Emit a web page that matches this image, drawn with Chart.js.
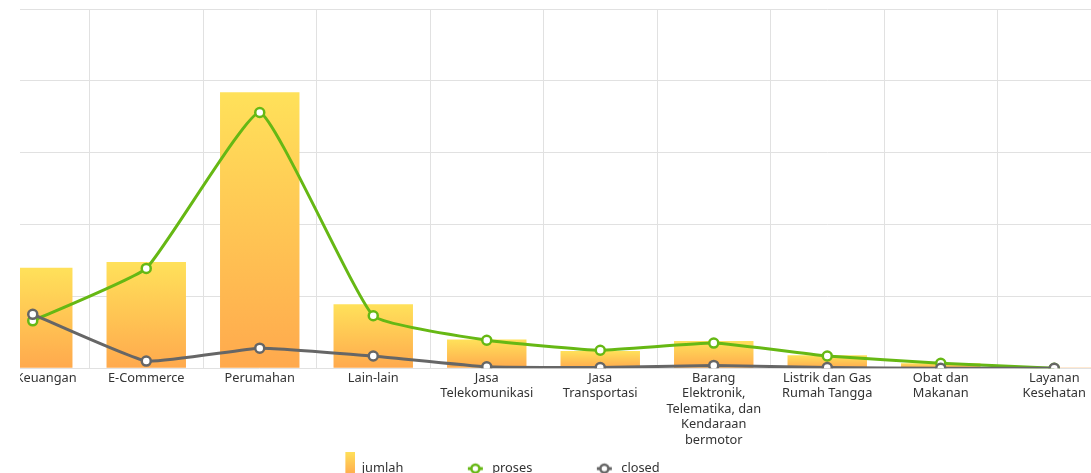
<!DOCTYPE html>
<html>
<head>
<meta charset="utf-8">
<script src="https://cdn.jsdelivr.net/npm/chart.js@4/dist/chart.umd.min.js"></script>
<style>
    html, body { margin: 0; padding: 0; background: #fff; overflow: hidden; }
    #wrap { position: absolute; left: 20px; top: 0; width: 1071px; height: 473px; overflow: hidden; }
    #chart { position: absolute; left: -193px; top: 0; }
</style>
</head>
<body>
<div id="wrap"><canvas id="chart" width="1291" height="485"></canvas></div>
<script>
// Data
const categories = [
    '        Keuangan',
    'E-Commerce',
    'Perumahan',
    'Lain-lain',
    ['Jasa', 'Telekomunikasi'],
    ['Jasa', 'Transportasi'],
    ['Barang', 'Elektronik,', 'Telematika, dan', 'Kendaraan', 'bermotor'],
    ['Listrik dan Gas', 'Rumah Tangga'],
    ['Obat dan', 'Makanan'],
    ['Layanan', 'Kesehatan']
];
const jumlah = [140, 148, 384, 89, 40, 24, 38, 18, 7, 1];
const proses = [66, 139, 356, 73, 39, 25, 35, 17, 7, 0];
const closed = [75, 10, 28, 17, 2, 1, 4, 1, 0, 0];

const colors = {
    barTop: '#ffe15a',
    barBottom: '#ffa94d',
    proses: '#66b814',
    closed: '#666666',
    grid: '#e1e1e1',
    text: '#333333'
};
const FONT = "'Noto Sans', sans-serif";

// Per-bar gradient, yellow at the top to orange at the baseline
function barGradient(context) {
    const chart = context.chart;
    const {chartArea, scales} = chart;
    if (!chartArea || context.type !== 'data') return colors.barTop;
    const top = scales.y.getPixelForValue(context.parsed.y);
    const bottom = scales.y.getPixelForValue(0);
    if (bottom - top < 1) return colors.barBottom;
    const g = chart.ctx.createLinearGradient(0, top, 0, bottom);
    g.addColorStop(0, colors.barTop);
    g.addColorStop(1, colors.barBottom);
    return g;
}

// Legend icons
function makeIcon(kind, color) {
    const c = document.createElement('canvas');
    c.width = 70;
    c.height = 34;
    const g = c.getContext('2d');
    if (kind === 'bar') {
        const grad = g.createLinearGradient(0, 0, 0, 24);
        grad.addColorStop(0, colors.barTop);
        grad.addColorStop(1, colors.barBottom);
        g.fillStyle = grad;
        g.fillRect(60, 0, 10, 24);
    } else {
        g.strokeStyle = color;
        g.lineWidth = 3;
        g.beginPath();
        g.moveTo(52, 17);
        g.lineTo(67, 17);
        g.stroke();
        g.beginPath();
        g.arc(59.5, 17, 4, 0, Math.PI * 2);
        g.fillStyle = '#fff';
        g.fill();
        g.lineWidth = 2.5;
        g.stroke();
    }
    return c;
}
const legendIcons = [makeIcon('bar'), makeIcon('line', colors.proses), makeIcon('line', colors.closed)];

const lineStyle = (color) => ({
    type: 'line',
    borderColor: color,
    backgroundColor: color,
    borderWidth: 3,
    pointRadius: 4.5,
    pointHoverRadius: 4.5,
    pointBackgroundColor: '#fff',
    pointBorderColor: color,
    pointBorderWidth: 2.5,
    tension: 0.12,
    fill: false,
    clip: {left: 20, top: 20, right: 20, bottom: 0}
});

new Chart(document.getElementById('chart'), {
    data: {
        labels: categories,
        datasets: [
            {
                type: 'bar',
                label: 'jumlah',
                data: jumlah,
                backgroundColor: barGradient,
                borderWidth: 0,
                barPercentage: 0.7,
                categoryPercentage: 1,
                order: 3
            },
            Object.assign(lineStyle(colors.proses), { label: 'proses', data: proses, order: 2 }),
            Object.assign(lineStyle(colors.closed), { label: 'closed', data: closed, order: 1 })
        ]
    },
    options: {
        responsive: false,
        animation: false,
        layout: {
            padding: { top: 9, right: 0, bottom: 0, left: 0 }
        },
        scales: {
            x: {
                grid: { color: colors.grid, drawTicks: false, offset: true },
                border: { display: false },
                ticks: {
                    autoSkip: false,
                    maxRotation: 0,
                    padding: 2,
                    color: colors.text,
                    font: { family: FONT, size: 12.8, lineHeight: 1.21 }
                }
            },
            y: {
                min: 0,
                max: 500,
                grid: { color: colors.grid, drawTicks: false },
                border: { display: false },
                ticks: { stepSize: 100, display: false },
                afterFit: (scale) => { scale.width = 149; }
            }
        },
        plugins: {
            tooltip: { enabled: false },
            legend: {
                position: 'bottom',
                labels: {
                    usePointStyle: true,
                    pointStyleWidth: 70,
                    padding: 12.5,
                    color: colors.text,
                    font: { family: FONT, size: 12.8 },
                    sort: (a, b) => a.datasetIndex - b.datasetIndex,
                    generateLabels: (chart) => {
                        const items = Chart.defaults.plugins.legend.labels.generateLabels(chart);
                        items.forEach(item => { item.pointStyle = legendIcons[item.datasetIndex]; });
                        return items;
                    }
                }
            }
        }
    }
});
</script>
</body>
</html>
